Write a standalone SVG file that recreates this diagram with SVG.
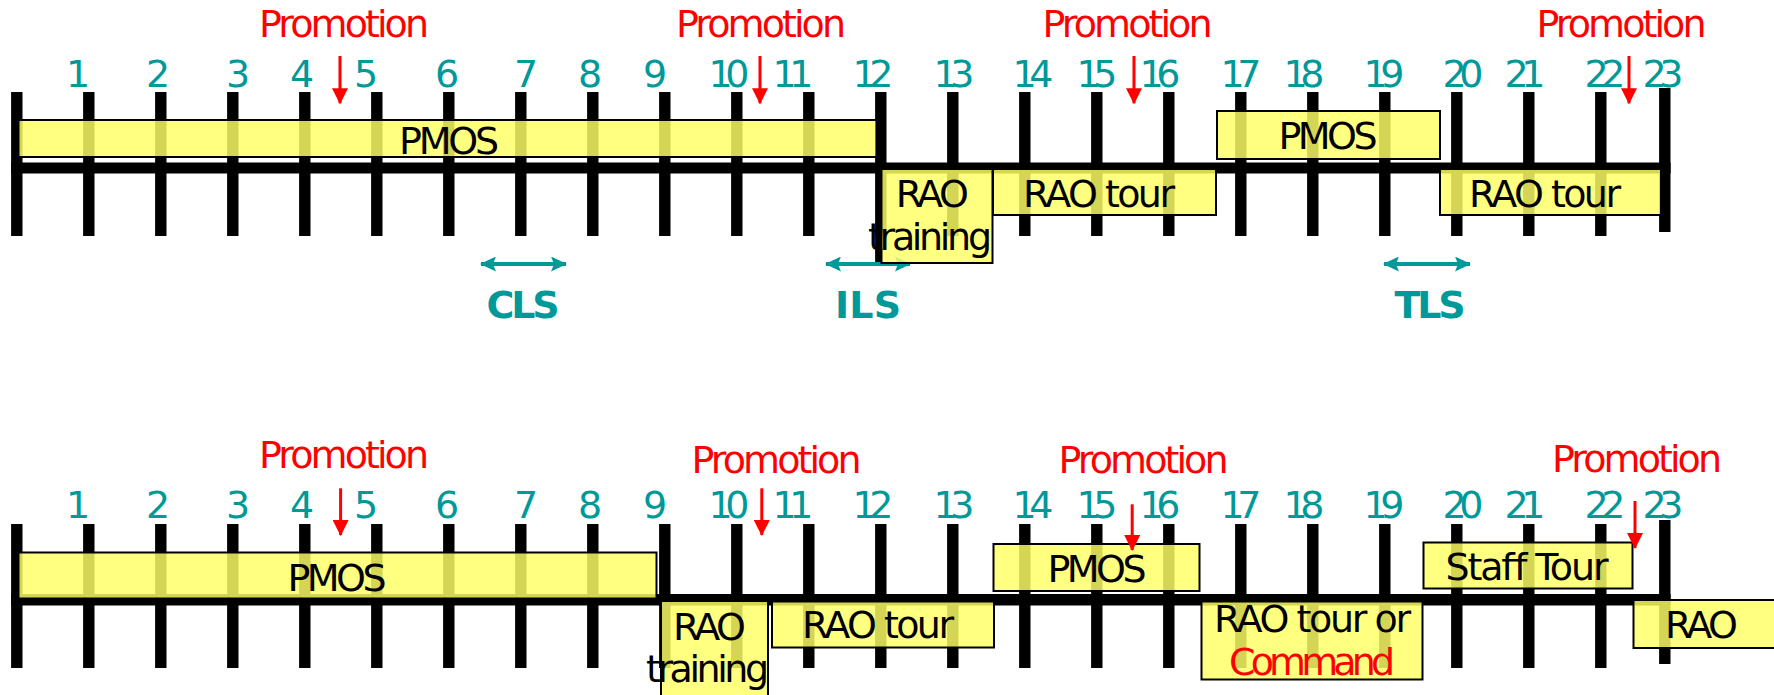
<svg xmlns="http://www.w3.org/2000/svg" xmlns:xlink="http://www.w3.org/1999/xlink" width="1774" height="695" viewBox="0 0 1774 695">
<defs>
<style>
.t{font-family:"DejaVu Sans","Liberation Sans",sans-serif;font-size:38px;text-anchor:middle;lengthAdjust:spacingAndGlyphs}
.num{fill:#009999}
.promo{fill:#FF0000}
.blk{fill:#000}
.bold{font-weight:bold;fill:#009999}
.box{fill:#FFFF66;fill-opacity:0.83;stroke:#000;stroke-width:2}
.bar{fill:#000}
.red{stroke:#FF0000;stroke-width:3;fill:none}
.teal{stroke:#009999;stroke-width:4;fill:none}
</style>
<rect id="tk" width="11.4" height="144" fill="#000"/>
<marker id="rh" markerUnits="userSpaceOnUse" markerWidth="16" markerHeight="16" viewBox="0 0 16 16" refX="15" refY="8" orient="auto">
<path d="M0,0 L16,8 L0,16 z" fill="#FF0000"/>
</marker>
<marker id="th" markerUnits="userSpaceOnUse" markerWidth="16" markerHeight="15" viewBox="0 0 16 15" refX="15" refY="7.5" orient="auto-start-reverse">
<path d="M0,0 L16,7.5 L0,15 L3,7.5 z" fill="#009999"/>
</marker>
</defs>
<rect width="1774" height="695" fill="#fff"/>

<g id="timeline-top">
<rect class="bar" x="11.1" y="162.5" width="1659.5" height="11"/>
<use xlink:href="#tk" x="11.1" y="92"/>
<use xlink:href="#tk" x="83.1" y="92"/>
<use xlink:href="#tk" x="155.1" y="92"/>
<use xlink:href="#tk" x="227.1" y="92"/>
<use xlink:href="#tk" x="299.1" y="92"/>
<use xlink:href="#tk" x="371.1" y="92"/>
<use xlink:href="#tk" x="443.1" y="92"/>
<use xlink:href="#tk" x="515.1" y="92"/>
<use xlink:href="#tk" x="587.1" y="92"/>
<use xlink:href="#tk" x="659.1" y="92"/>
<use xlink:href="#tk" x="731.1" y="92"/>
<use xlink:href="#tk" x="803.1" y="92"/>
<use xlink:href="#tk" x="875.1" y="92"/>
<use xlink:href="#tk" x="947.1" y="92"/>
<use xlink:href="#tk" x="1019.1" y="92"/>
<use xlink:href="#tk" x="1091.1" y="92"/>
<use xlink:href="#tk" x="1163.1" y="92"/>
<use xlink:href="#tk" x="1235.1" y="92"/>
<use xlink:href="#tk" x="1307.1" y="92"/>
<use xlink:href="#tk" x="1379.1" y="92"/>
<use xlink:href="#tk" x="1451.1" y="92"/>
<use xlink:href="#tk" x="1523.1" y="92"/>
<use xlink:href="#tk" x="1595.1" y="92"/>
<use xlink:href="#tk" x="1659.1" y="88"/>
<rect x="875.1" y="230" width="6" height="34" fill="#000"/>
</g>

<g id="timeline-bottom">
<rect class="bar" x="11.1" y="594" width="1659.5" height="11.5"/>
<use xlink:href="#tk" x="11.1" y="524"/>
<use xlink:href="#tk" x="83.1" y="524"/>
<use xlink:href="#tk" x="155.1" y="524"/>
<use xlink:href="#tk" x="227.1" y="524"/>
<use xlink:href="#tk" x="299.1" y="524"/>
<use xlink:href="#tk" x="371.1" y="524"/>
<use xlink:href="#tk" x="443.1" y="524"/>
<use xlink:href="#tk" x="515.1" y="524"/>
<use xlink:href="#tk" x="587.1" y="524"/>
<use xlink:href="#tk" x="659.1" y="524"/>
<use xlink:href="#tk" x="731.1" y="524"/>
<use xlink:href="#tk" x="803.1" y="524"/>
<use xlink:href="#tk" x="875.1" y="524"/>
<use xlink:href="#tk" x="947.1" y="524"/>
<use xlink:href="#tk" x="1019.1" y="524"/>
<use xlink:href="#tk" x="1091.1" y="524"/>
<use xlink:href="#tk" x="1163.1" y="524"/>
<use xlink:href="#tk" x="1235.1" y="524"/>
<use xlink:href="#tk" x="1307.1" y="524"/>
<use xlink:href="#tk" x="1379.1" y="524"/>
<use xlink:href="#tk" x="1451.1" y="524"/>
<use xlink:href="#tk" x="1523.1" y="524"/>
<use xlink:href="#tk" x="1595.1" y="524"/>
<use xlink:href="#tk" x="1659.1" y="520"/>
</g>

<g id="numbers-top">
<text class="t num" x="78" y="87.3" textLength="21">1</text>
<text class="t num" x="158" y="87.3" textLength="21">2</text>
<text class="t num" x="238" y="87.3" textLength="21">3</text>
<text class="t num" x="302" y="87.3" textLength="21">4</text>
<text class="t num" x="366" y="87.3" textLength="21">5</text>
<text class="t num" x="447" y="87.3" textLength="21">6</text>
<text class="t num" x="526" y="87.3" textLength="21">7</text>
<text class="t num" x="590" y="87.3" textLength="21">8</text>
<text class="t num" x="655" y="87.3" textLength="21">9</text>
<text class="t num" x="729" y="87.3" textLength="41">10</text>
<text class="t num" x="793" y="87.3" textLength="41">11</text>
<text class="t num" x="873" y="87.3" textLength="41">12</text>
<text class="t num" x="954" y="87.3" textLength="41">13</text>
<text class="t num" x="1033" y="87.3" textLength="41">14</text>
<text class="t num" x="1097" y="87.3" textLength="41">15</text>
<text class="t num" x="1160" y="87.3" textLength="41">16</text>
<text class="t num" x="1241" y="87.3" textLength="41">17</text>
<text class="t num" x="1304" y="87.3" textLength="41">18</text>
<text class="t num" x="1384" y="87.3" textLength="41">19</text>
<text class="t num" x="1463" y="87.3" textLength="41">20</text>
<text class="t num" x="1525" y="87.3" textLength="41">21</text>
<text class="t num" x="1605" y="87.3" textLength="41">22</text>
<text class="t num" x="1663" y="87.3" textLength="41">23</text>
</g>

<g id="numbers-bottom">
<text class="t num" x="78" y="518.3" textLength="21">1</text>
<text class="t num" x="158" y="518.3" textLength="21">2</text>
<text class="t num" x="238" y="518.3" textLength="21">3</text>
<text class="t num" x="302" y="518.3" textLength="21">4</text>
<text class="t num" x="366" y="518.3" textLength="21">5</text>
<text class="t num" x="447" y="518.3" textLength="21">6</text>
<text class="t num" x="526" y="518.3" textLength="21">7</text>
<text class="t num" x="590" y="518.3" textLength="21">8</text>
<text class="t num" x="655" y="518.3" textLength="21">9</text>
<text class="t num" x="729" y="518.3" textLength="41">10</text>
<text class="t num" x="793" y="518.3" textLength="41">11</text>
<text class="t num" x="873" y="518.3" textLength="41">12</text>
<text class="t num" x="954" y="518.3" textLength="41">13</text>
<text class="t num" x="1033" y="518.3" textLength="41">14</text>
<text class="t num" x="1097" y="518.3" textLength="41">15</text>
<text class="t num" x="1160" y="518.3" textLength="41">16</text>
<text class="t num" x="1241" y="518.3" textLength="41">17</text>
<text class="t num" x="1304" y="518.3" textLength="41">18</text>
<text class="t num" x="1384" y="518.3" textLength="41">19</text>
<text class="t num" x="1463" y="518.3" textLength="41">20</text>
<text class="t num" x="1525" y="518.3" textLength="41">21</text>
<text class="t num" x="1605" y="518.3" textLength="41">22</text>
<text class="t num" x="1663" y="518.3" textLength="41">23</text>
</g>

<g id="connectors">
<line class="teal" x1="481" y1="264" x2="566" y2="264" marker-start="url(#th)" marker-end="url(#th)"/>
<line class="teal" x1="826" y1="264" x2="910" y2="264" marker-start="url(#th)" marker-end="url(#th)"/>
<line class="teal" x1="1384" y1="264" x2="1470" y2="264" marker-start="url(#th)" marker-end="url(#th)"/>
</g>

<g id="node-pmos-top-1"><rect class="box" x="18.5" y="120" width="858" height="37"/><text class="t blk" x="449" y="154" textLength="100">PMOS</text></g>
<g id="node-rao-training-top"><rect class="box" x="881.5" y="169" width="111" height="94"/><text class="t blk" x="932.3" y="206.7" textLength="73">RAO</text><text class="t blk" x="930" y="250" textLength="124">training</text></g>
<g id="node-rao-tour-top-1"><rect class="box" x="993" y="169" width="223" height="46"/><text class="t blk" x="1099" y="206.7" textLength="152">RAO tour</text></g>
<g id="node-pmos-top-2"><rect class="box" x="1217" y="111" width="223" height="48"/><text class="t blk" x="1328" y="149" textLength="99">PMOS</text></g>
<g id="node-rao-tour-top-2"><rect class="box" x="1440" y="169" width="221" height="46"/><text class="t blk" x="1545" y="206.7" textLength="152">RAO tour</text></g>

<g id="node-cls"><text class="t bold" x="523" y="318.3" textLength="73">CLS</text></g>
<g id="node-ils"><text class="t bold" x="868" y="318.3" textLength="66">ILS</text></g>
<g id="node-tls"><text class="t bold" x="1430" y="318.3" textLength="71">TLS</text></g>

<g id="node-pmos-bottom-1"><rect class="box" x="18.5" y="552.5" width="638" height="46"/><text class="t blk" x="337" y="590.7" textLength="99">PMOS</text></g>
<g id="node-rao-training-bottom"><rect class="box" x="661" y="601" width="107" height="110"/><text class="t blk" x="709.5" y="640" textLength="73">RAO</text><text class="t blk" x="707.5" y="682" textLength="123">training</text></g>
<g id="node-rao-tour-bottom"><rect class="box" x="772" y="601.5" width="222" height="46"/><text class="t blk" x="878" y="638.3" textLength="152">RAO tour</text></g>
<g id="node-pmos-bottom-2"><rect class="box" x="993.5" y="544" width="206" height="47"/><text class="t blk" x="1097" y="581.7" textLength="99">PMOS</text></g>
<g id="node-rao-tour-command"><rect class="box" x="1201.5" y="601.5" width="221" height="78"/><text class="t blk" x="1312.5" y="631.7" textLength="197">RAO tour or</text><text class="t promo" x="1312" y="675" textLength="166">Command</text></g>
<g id="node-staff-tour"><rect class="box" x="1423.5" y="542.5" width="209" height="46"/><text class="t blk" x="1527" y="580" textLength="163">Staff Tour</text></g>
<g id="node-rao-bottom"><rect class="box" x="1633.5" y="600" width="160" height="48"/><text class="t blk" x="1701.5" y="638.3" textLength="73">RAO</text></g>

<g id="promotions">
<text class="t promo" x="344" y="37.3" textLength="170">Promotion</text>
<text class="t promo" x="761" y="37.3" textLength="170">Promotion</text>
<text class="t promo" x="1127.5" y="37.3" textLength="170">Promotion</text>
<text class="t promo" x="1621.5" y="37.3" textLength="170">Promotion</text>
<text class="t promo" x="344" y="467.7" textLength="170">Promotion</text>
<text class="t promo" x="776.5" y="472.7" textLength="170">Promotion</text>
<text class="t promo" x="1143.5" y="472.7" textLength="170">Promotion</text>
<text class="t promo" x="1637" y="471.7" textLength="170">Promotion</text>
</g>

<g id="promotion-arrows">
<line class="red" x1="340" y1="56" x2="340" y2="103.3" marker-end="url(#rh)"/>
<line class="red" x1="760" y1="56" x2="760" y2="103.3" marker-end="url(#rh)"/>
<line class="red" x1="1134" y1="56" x2="1134" y2="103.3" marker-end="url(#rh)"/>
<line class="red" x1="1629" y1="56" x2="1629" y2="103.3" marker-end="url(#rh)"/>
<line class="red" x1="340.6" y1="488.3" x2="340.6" y2="535" marker-end="url(#rh)"/>
<line class="red" x1="761.8" y1="488.3" x2="761.8" y2="535" marker-end="url(#rh)"/>
<line class="red" x1="1132.2" y1="504.3" x2="1132.2" y2="550" marker-end="url(#rh)"/>
<line class="red" x1="1635" y1="501" x2="1635" y2="548" marker-end="url(#rh)"/>
</g>
</svg>
